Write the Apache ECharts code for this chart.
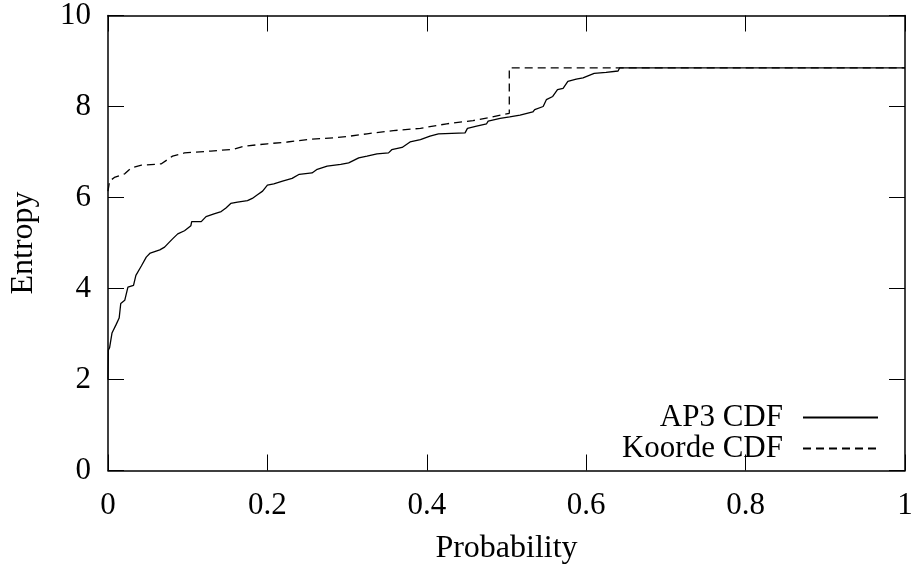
<!DOCTYPE html>
<html>
<head>
<meta charset="utf-8">
<script src="https://cdn.jsdelivr.net/npm/echarts@6/dist/echarts.min.js"></script>
<style>
html,body{margin:0;padding:0;background:#fff;}
#chart{width:918px;height:570px;}
</style>
</head>
<body>
<div id="chart"></div>
<script>
const seriesNames = ['AP3 CDF', 'Koorde CDF'];
const xTitle = 'Probability';
const yTitle = 'Entropy';

const ap3Prob = [
  0, 0.0005, 0.002, 0.005, 0.010, 0.014, 0.016, 0.021, 0.025, 0.032,
  0.035, 0.042, 0.048, 0.053, 0.065, 0.071, 0.077, 0.081, 0.0875, 0.096,
  0.104, 0.105, 0.117, 0.123, 0.133, 0.142, 0.148, 0.154, 0.1625, 0.175,
  0.181, 0.1875, 0.194, 0.2, 0.208, 0.219, 0.231, 0.24, 0.256, 0.2625,
  0.275, 0.292, 0.302, 0.3146, 0.325, 0.3375, 0.352, 0.356, 0.369, 0.379,
  0.392, 0.404, 0.4146, 0.448, 0.451, 0.4625, 0.475, 0.477, 0.492, 0.504,
  0.517, 0.533, 0.5354, 0.546, 0.55, 0.558, 0.564, 0.571, 0.577, 0.5875,
  0.596, 0.61, 0.625, 0.64, 0.642, 1.0
];
const ap3Entropy = [
  2.0, 2.65, 2.7, 3.02, 3.2, 3.35, 3.67, 3.74, 4.03, 4.07,
  4.29, 4.5, 4.69, 4.78, 4.85, 4.91, 5.02, 5.09, 5.2, 5.27,
  5.38, 5.47, 5.47, 5.58, 5.64, 5.69, 5.77, 5.87, 5.9, 5.93,
  5.98, 6.06, 6.14, 6.27, 6.3, 6.36, 6.42, 6.51, 6.54, 6.62,
  6.69, 6.73, 6.76, 6.87, 6.91, 6.96, 6.98, 7.05, 7.1, 7.22,
  7.27, 7.35, 7.4, 7.42, 7.52, 7.57, 7.62, 7.68, 7.74, 7.77,
  7.81, 7.88, 7.93, 8.0, 8.15, 8.22, 8.37, 8.4, 8.55, 8.6,
  8.63, 8.73, 8.75, 8.78, 8.85, 8.85
];

const koordeProb = [
  0, 0.002, 0.008, 0.021, 0.029, 0.042, 0.067, 0.081, 0.096, 0.129,
  0.158, 0.171, 0.2, 0.225, 0.254, 0.283, 0.304, 0.325, 0.358, 0.392,
  0.425, 0.458, 0.479, 0.498, 0.5035, 0.5035, 1.0
];
const koordeEntropy = [
  6.14, 6.36, 6.44, 6.52, 6.65, 6.71, 6.74, 6.91, 6.98, 7.02,
  7.06, 7.13, 7.18, 7.22, 7.28, 7.31, 7.35, 7.4, 7.47, 7.52,
  7.62, 7.69, 7.76, 7.83, 7.85, 8.85, 8.85
];

const zip = (xs, ys) => xs.map((x, i) => [x, ys[i]]);
const FONT = 'Liberation Serif';

const chart = echarts.init(document.getElementById('chart'), null, {renderer: 'canvas'});

const tickStyle = {show: true, inside: true, length: 16, lineStyle: {color: '#000', width: 1}};
const lineFrame = {show: true, onZero: false, lineStyle: {color: '#000', width: 1.5}};

chart.setOption({
  animation: false,
  backgroundColor: '#fff',
  grid: {left: 107, right: 13, top: 13.5, bottom: 98.5, containLabel: false},
  legend: {
    orient: 'vertical',
    right: 34,
    top: 397,
    align: 'right',
    itemWidth: 75,
    itemHeight: 14,
    itemGap: 0,
    itemStyle: {opacity: 0},
    textStyle: {fontFamily: FONT, fontSize: 31, color: '#000', lineHeight: 20, padding: [10, 15, 0, 0]},
    data: seriesNames
  },
  xAxis: [{
    type: 'value', min: 0, max: 1, interval: 0.2, position: 'bottom',
    name: xTitle, nameLocation: 'middle', nameGap: 78.5,
    nameTextStyle: {fontFamily: FONT, fontSize: 32, color: '#000', verticalAlign: 'middle'},
    axisLine: lineFrame, axisTick: tickStyle,
    axisLabel: {fontFamily: FONT, fontSize: 31, color: '#000', margin: 35, verticalAlign: 'middle'},
    splitLine: {show: false}
  }, {
    type: 'value', min: 0, max: 1, interval: 0.2, position: 'top',
    axisLine: lineFrame, axisTick: tickStyle, axisLabel: {show: false}, splitLine: {show: false}
  }],
  yAxis: [{
    type: 'value', min: 0, max: 10, interval: 2, position: 'left',
    name: yTitle, nameLocation: 'middle', nameGap: 84, nameRotate: 90,
    nameTextStyle: {fontFamily: FONT, fontSize: 32, color: '#000', verticalAlign: 'middle'},
    axisLine: lineFrame, axisTick: tickStyle,
    axisLabel: {fontFamily: FONT, fontSize: 31, color: '#000', margin: 17, padding: [13, 0, 0, 0]},
    splitLine: {show: false}
  }, {
    type: 'value', min: 0, max: 10, interval: 2, position: 'right',
    axisLine: lineFrame, axisTick: tickStyle, axisLabel: {show: false}, splitLine: {show: false}
  }],
  series: [{
    name: seriesNames[0], type: 'line', xAxisIndex: 0, yAxisIndex: 0,
    data: zip(ap3Prob, ap3Entropy),
    symbol: 'none', showSymbol: false,
    lineStyle: {color: '#000', width: 1.3, type: 'solid'},
    itemStyle: {color: '#000'}
  }, {
    name: seriesNames[1], type: 'line', xAxisIndex: 0, yAxisIndex: 0,
    data: zip(koordeProb, koordeEntropy),
    symbol: 'none', showSymbol: false,
    lineStyle: {color: '#000', width: 1.3, type: [8, 5]},
    itemStyle: {color: '#000'}
  }]
});
</script>
</body>
</html>
